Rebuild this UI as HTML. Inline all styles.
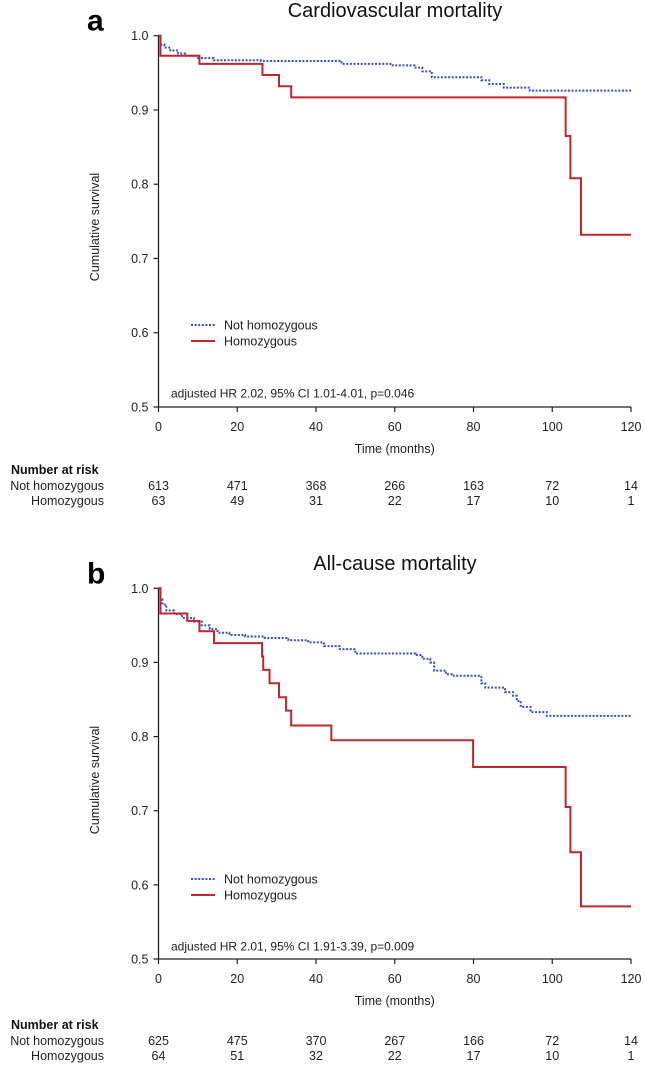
<!DOCTYPE html>
<html><head><meta charset="utf-8">
<style>
body{margin:0;background:#fff;}
svg{display:block;font-family:"Liberation Sans",Arial,sans-serif;}
</style></head>
<body>
<svg id="c" width="645" height="1067" viewBox="0 0 645 1067" xmlns="http://www.w3.org/2000/svg"></svg>
<script>
// Panel a: cardiovascular mortality
const aRedT=[0,0.5,10.4,26.4,30.6,33.7,103.4,104.6,107.3,120];
const aRedS=[1.0,0.973,0.962,0.947,0.932,0.917,0.865,0.808,0.732,0.732];
const aBlueT=[0,0.5,1.5,3,5,7,10,14,26,46.5,59.5,65,67,69.4,82,84,87.7,94.3,120];
const aBlueS=[1.0,0.988,0.984,0.980,0.976,0.973,0.970,0.967,0.966,0.962,0.960,0.957,0.952,0.944,0.940,0.935,0.930,0.926,0.926];
const aRiskNot=[613,471,368,266,163,72,14];
const aRiskHom=[63,49,31,22,17,10,1];
// Panel b: all-cause mortality
const bRedT=[0,0.5,7.3,10.4,14.1,26.3,26.6,28.2,30.6,32.4,33.7,43.9,79.9,103.4,104.6,107.3,120];
const bRedS=[1.0,0.966,0.956,0.942,0.926,0.908,0.890,0.872,0.853,0.835,0.815,0.795,0.759,0.705,0.644,0.571,0.571];
const bBlueT=[0,0.5,1,2,4,6,9,11,13,15,18,22,27,33,38,42,46,50,65.3,67,69,70,73,75,82,83,88,90,91,92,94.5,98.6,120];
const bBlueS=[1.0,0.985,0.978,0.970,0.965,0.960,0.955,0.950,0.945,0.940,0.937,0.935,0.933,0.930,0.927,0.922,0.918,0.912,0.910,0.905,0.900,0.889,0.884,0.882,0.872,0.866,0.860,0.855,0.848,0.840,0.833,0.828,0.828];
const bRiskNot=[625,475,370,267,166,72,14];
const bRiskHom=[64,51,32,22,17,10,1];
const xTicks=[0,20,40,60,80,100,120];
const yTicks=[0.5,0.6,0.7,0.8,0.9,1.0];

const NS="http://www.w3.org/2000/svg";
const svg=document.getElementById('c');
function mk(tag,attrs,parent,text){const e=document.createElementNS(NS,tag);for(const k in attrs)e.setAttribute(k,attrs[k]);if(text!==undefined)e.textContent=text;(parent||svg).appendChild(e);return e;}

function panel(o){
  const g=mk('g',{});
  
  
  const x=t=>158.5+t*(631-158.5)/120;
  const y=s=>o.y0+(1-s)*(o.y5-o.y0)/0.5;
  const lab=mk('text',{x:87,y:o.y0-5,'font-size':30,'font-weight':'bold',fill:'#000'},g,o.id);
  
  
  const ti=mk('text',{x:395,y:o.titleY,'font-size':20,'text-anchor':'middle',fill:'#111'},g,o.title);
  
  
  // axes
  const ax=mk('path',{d:`M${x(0)},${y(1)}V${y(0.5)}H${x(120)}`,stroke:'#222','stroke-width':1.3,fill:'none'},g);
  
  
  yTicks.forEach(v=>{
    mk('line',{x1:x(0)-5,x2:x(0),y1:y(v),y2:y(v),stroke:'#222','stroke-width':1.2},g);
    const t=mk('text',{x:x(0)-10,y:y(v)+4.5,'font-size':12.5,'text-anchor':'end',fill:'#222'},g,v.toFixed(1));
    
    
  });
  xTicks.forEach(v=>{
    mk('line',{x1:x(v),x2:x(v),y1:y(0.5),y2:y(0.5)+5,stroke:'#222','stroke-width':1.2},g);
    const t=mk('text',{x:x(v),y:y(0.5)+24,'font-size':12.5,'text-anchor':'middle',fill:'#222'},g,String(v));
    
    
  });
  const xt=mk('text',{x:x(60),y:y(0.5)+46,'font-size':12.5,'text-anchor':'middle',fill:'#222'},g,'Time (months)');
  
  
  const yc=o.yLabelY;
  const yt=mk('text',{x:99,y:yc,'font-size':12.5,'text-anchor':'middle',fill:'#222',transform:`rotate(-90 99 ${yc})`},g,'Cumulative survival');
  
  
  function step(T,S){let d=`M${x(T[0])},${y(S[0])}`;for(let i=1;i<T.length;i++){d+=`H${x(T[i])}V${y(S[i])}`;}return d;}
  const bl=mk('path',{d:step(o.bT,o.bS),stroke:'#3a4fc4','stroke-width':2,'stroke-dasharray':'2,1.6',fill:'none'},g);
  
  
  const rd=mk('path',{d:step(o.rT,o.rS),stroke:'#c0262c','stroke-width':2,fill:'none'},g);
  
  
  // legend
  const l1=mk('line',{x1:191,x2:215,y1:o.legY,y2:o.legY,stroke:'#3a4fc4','stroke-width':2,'stroke-dasharray':'2,1.6'},g);
  
  
  const lt1=mk('text',{x:224,y:o.legY+4.5,'font-size':12.5,fill:'#222'},g,'Not homozygous');
  
  
  const l2=mk('line',{x1:191,x2:215,y1:o.legY+16,y2:o.legY+16,stroke:'#c0262c','stroke-width':2},g);
  
  
  const lt2=mk('text',{x:224,y:o.legY+20.5,'font-size':12.5,fill:'#222'},g,'Homozygous');
  
  
  const hr=mk('text',{x:171,y:o.hrY+4.5,'font-size':12,fill:'#222'},g,o.hr);
  
  
  // risk table
  const nr=mk('text',{x:11,y:o.riskY,'font-size':12.5,'font-weight':'bold',fill:'#111'},g,'Number at risk');
  
  
  const r1=mk('text',{x:104,y:o.riskY+16,'font-size':12.5,'text-anchor':'end',fill:'#222'},g,'Not homozygous');
  
  
  const r2=mk('text',{x:104,y:o.riskY+31,'font-size':12.5,'text-anchor':'end',fill:'#222'},g,'Homozygous');
  
  
  xTicks.forEach((v,i)=>{
    const a=mk('text',{x:x(v),y:o.riskY+16,'font-size':12.5,'text-anchor':'middle',fill:'#222'},g,String(o.rn[i]));
    
    
    const b=mk('text',{x:x(v),y:o.riskY+31,'font-size':12.5,'text-anchor':'middle',fill:'#222'},g,String(o.rh[i]));
    
    
  });
}
panel({id:'a',title:'Cardiovascular mortality',titleY:17,y0:35.7,y5:407,yLabelY:227,legY:325,hrY:393,riskY:474,
  rT:aRedT,rS:aRedS,bT:aBlueT,bS:aBlueS,rn:aRiskNot,rh:aRiskHom,hr:'adjusted HR 2.02, 95% CI 1.01-4.01, p=0.046'});
panel({id:'b',title:'All-cause mortality',titleY:570,y0:588.3,y5:959,yLabelY:780,legY:879,hrY:946,riskY:1029,
  rT:bRedT,rS:bRedS,bT:bBlueT,bS:bBlueS,rn:bRiskNot,rh:bRiskHom,hr:'adjusted HR 2.01, 95% CI 1.91-3.39, p=0.009'});
</script>
</body></html>
